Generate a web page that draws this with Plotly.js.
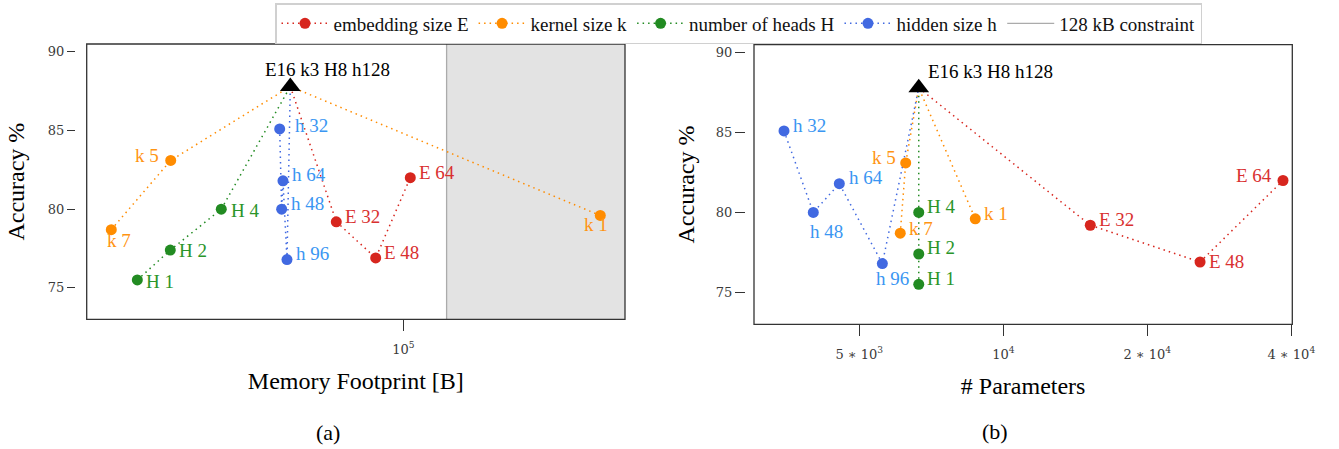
<!DOCTYPE html>
<html><head><meta charset="utf-8">
<script src="https://cdn.plot.ly/plotly-3.0.1.min.js"></script>
<style>html,body{margin:0;padding:0;background:#fff}#chart{width:1339px;height:449px}</style>
</head><body><div id="chart"></div>
<script>
// ---------------- data ----------------
const baseLabel = 'E16 k3 H8 h128';
const baseMemory = 49360;
const baseParams = 6657;
const baseAccuracy = 87.8;

const embLabels = ['E 32', 'E 48', 'E 64'];
const embMemory = [65790, 84160, 104470];
const embParams = [15200, 25780, 38430];
const embAccuracy = [79.2, 76.9, 82.0];

const kerLabels = ['k 7', 'k 5', 'k 1'];
const kerMemory = [16130, 23380, 342400];
const kerParams = [6090, 6252, 8738];
const kerAccuracy = [78.7, 83.1, 79.6];

const headLabels = ['H 1', 'H 2', 'H 4'];
const headMemory = [18980, 23320, 32070];
const headParams = [6657, 6657, 6657];
const headAccuracy = [75.5, 77.4, 80.0];

const hidLabels = ['h 32', 'h 48', 'h 64', 'h 96'];
const hidMemory = [46190, 46770, 47150, 48350];
const hidParams = [3480, 4007, 4542, 5587];
const hidAccuracy = [85.1, 80.0, 81.8, 76.8];

const memoryLimit = 128 * 1024;
const accTicks = [75, 80, 85, 90];
const memTickVals = [1e5];
const memTickText = ['10<sup>5</sup>'];
const parTickVals = [5e3, 1e4, 2e4, 4e4];
const parTickText = ['5 \u2217 10<sup>3</sup>', '10<sup>4</sup>', '2 \u2217 10<sup>4</sup>', '4 \u2217 10<sup>4</sup>'];

// ---------------- style ----------------
const SERIF = 'Liberation Serif';
const TICKFONT = {family: 'DejaVu Serif', size: 13, color: '#3a3a3a'};
const memRange = [4.1409, 5.6016];
const parRange = [3.4789, 4.6041];
const accRange = [73, 90.5];
const W = 1339, H = 449;

// label placement per point: [anchor, dx, dy(up)]
const series = [
  {name: 'embedding size E', color: '#d7261e', text: '#d93030', baseAt: 0,
   labels: embLabels, mem: embMemory, par: embParams, acc: embAccuracy,
   offA: [['l', 6.4, 5], ['l', 6.6, 5.7], ['l', 6.4, 5]],
   offB: [['l', 6.4, 5.3], ['l', 6.7, 0.3], ['r', -8.7, 5.3]]},
  {name: 'kernel size k', color: '#ff8c00', text: '#ff9412', baseAt: 2,
   labels: kerLabels, mem: kerMemory, par: kerParams, acc: kerAccuracy,
   offA: [['c', 8, -11.3], ['r', -10, 4.7], ['c', -4, -8.6]],
   offB: [['l', 6.4, 4.7], ['r', -7.4, 5.3], ['l', 6.4, 5.7]]},
  {name: 'number of heads H', color: '#228b22', text: '#2a952a', baseAt: 3,
   labels: headLabels, mem: headMemory, par: headParams, acc: headAccuracy,
   offA: [['l', 6.7, -1.7], ['l', 7, -0.7], ['l', 7.4, -1]],
   offB: [['l', 6.3, 6], ['l', 6.3, 6.3], ['l', 6.3, 6.3]]},
  {name: 'hidden size h', color: '#4169e1', text: '#3a96f2', baseAt: 4,
   labels: hidLabels, mem: hidMemory, par: hidParams, acc: hidAccuracy,
   offA: [['l', 13.6, 3.3], ['l', 7.6, 5.4], ['l', 7, 6], ['l', 7, 6]],
   offB: [['l', 7, 5.3], ['c', 13, -19.3], ['l', 7.4, 6.3], ['c', 9.7, -14.7]]}
];

function withBase(arr, b, at) { const a = arr.slice(); a.splice(at, 0, b); return a; }

const traces = [];
const annotations = [];

// legend entries
series.forEach(s => {
  traces.push({type: 'scatter', mode: 'lines+markers', x: [null], y: [null], name: s.name,
    xaxis: 'x', yaxis: 'y', hoverinfo: 'skip',
    line: {color: s.color, width: 1.5, dash: '1.5px,4px'},
    marker: {color: s.color, size: 11}});
});
traces.push({type: 'scatter', mode: 'lines', x: [memoryLimit, memoryLimit], y: accRange,
  name: '128 kB constraint', xaxis: 'x', yaxis: 'y', hoverinfo: 'skip',
  line: {color: '#ababab', width: 1.3}});

function anchorOf(c) { return c === 'l' ? 'left' : (c === 'r' ? 'right' : 'center'); }

[['x', 'y', 'mem', 'offA', baseMemory, ['l', -27, 17]],
 ['x2', 'y2', 'par', 'offB', baseParams, ['l', 7, 16.4]]].forEach(([xa, ya, key, offKey, bx, bOff]) => {
  series.forEach(s => {
    traces.push({type: 'scatter', mode: 'lines', showlegend: false, hoverinfo: 'skip',
      xaxis: xa, yaxis: ya,
      x: withBase(s[key], bx, s.baseAt), y: withBase(s.acc, baseAccuracy, s.baseAt),
      line: {color: s.color, width: 1.5, dash: '1.5px,4px'}});
  });
  series.forEach(s => {
    traces.push({type: 'scatter', mode: 'markers', showlegend: false, xaxis: xa, yaxis: ya,
      x: s[key], y: s.acc, hoverinfo: 'skip',
      marker: {color: s.color, size: 11}});
    s[key].forEach((v, i) => {
      const o = s[offKey][i];
      annotations.push({xref: xa, yref: ya, x: Math.log10(v), y: s.acc[i], text: s.labels[i],
        showarrow: false, xanchor: anchorOf(o[0]), yanchor: 'middle', xshift: o[1], yshift: o[2],
        font: {family: SERIF, size: 19, color: s.text}});
    });
  });
  traces.push({type: 'scatter', mode: 'markers', showlegend: false, xaxis: xa, yaxis: ya,
    x: [bx], y: [baseAccuracy], hoverinfo: 'skip',
    marker: {symbol: 'triangle-up', color: '#000', size: 18}});
  annotations.push({xref: xa, yref: ya, x: Math.log10(bx), y: baseAccuracy, text: baseLabel,
    showarrow: false, xanchor: anchorOf(bOff[0]), yanchor: 'middle', xshift: bOff[1], yshift: bOff[2],
    font: {family: SERIF, size: 19, color: '#000'}});
});

annotations.push({xref: 'paper', yref: 'paper', x: 328.3 / W, y: 1 - 432.7 / H, text: '(a)',
  showarrow: false, xanchor: 'center', yanchor: 'middle', font: {family: SERIF, size: 22, color: '#000'}});
annotations.push({xref: 'paper', yref: 'paper', x: 995 / W, y: 1 - 431.7 / H, text: '(b)',
  showarrow: false, xanchor: 'center', yanchor: 'middle', font: {family: SERIF, size: 22, color: '#000'}});

const axisCommon = {showgrid: false, zeroline: false, showline: false, ticks: 'outside',
  tickcolor: '#333', tickwidth: 1, tickfont: TICKFONT, automargin: false};

const layout = {
  width: W, height: H, margin: {l: 0, r: 0, t: 0, b: 0},
  paper_bgcolor: '#fff', plot_bgcolor: '#fff',
  font: {family: SERIF, color: '#000'},
  showlegend: true,
  legend: {orientation: 'h', x: 275 / W, y: 1 - 3 / H, xanchor: 'left', yanchor: 'top',
    font: {family: SERIF, size: 19, color: '#111'}, bgcolor: '#fff',
    bordercolor: '#d0d0d0', borderwidth: 1.5, itemwidth: 47, traceorder: 'normal'},
  xaxis: Object.assign({}, axisCommon, {domain: [86.7 / W, 625 / W], type: 'log', range: memRange,
    anchor: 'y', tickvals: memTickVals, ticktext: memTickText, ticklen: 11, ticklabelstandoff: 7,
    title: {text: 'Memory Footprint [B]', font: {family: SERIF, size: 24, color: '#000'}, standoff: 16}}),
  yaxis: Object.assign({}, axisCommon, {domain: [1 - 319.3 / H, 1 - 44 / H], range: accRange,
    anchor: 'free', position: 75 / W, tickvals: accTicks, ticklen: 8,
    title: {text: 'Accuracy %', font: {family: SERIF, size: 24, color: '#000'}, standoff: 15}}),
  xaxis2: Object.assign({}, axisCommon, {domain: [754 / W, 1292.3 / W], type: 'log', range: parRange,
    anchor: 'y2', tickvals: parTickVals, ticktext: parTickText, ticklen: 11, ticklabelstandoff: 7,
    title: {text: '# Parameters', font: {family: SERIF, size: 24, color: '#000'}, standoff: 16}}),
  yaxis2: Object.assign({}, axisCommon, {domain: [1 - 324.3 / H, 1 - 44.7 / H], range: accRange,
    anchor: 'free', position: 745 / W, tickvals: accTicks, ticklen: 10,
    title: {text: 'Accuracy %', font: {family: SERIF, size: 24, color: '#000'}, standoff: 13}}),
  shapes: [
    {type: 'rect', xref: 'x', yref: 'y domain', x0: memoryLimit, x1: Math.pow(10, memRange[1]),
     y0: 0, y1: 1, fillcolor: '#e3e3e3', line: {width: 0}, layer: 'below'},
    {type: 'rect', xref: 'x domain', yref: 'y domain', x0: 0, x1: 1, y0: 0, y1: 1,
     line: {color: '#333', width: 1.3}, fillcolor: 'rgba(0,0,0,0)', layer: 'above'},
    {type: 'rect', xref: 'x2 domain', yref: 'y2 domain', x0: 0, x1: 1, y0: 0, y1: 1,
     line: {color: '#333', width: 1.3}, fillcolor: 'rgba(0,0,0,0)', layer: 'above'}
  ],
  annotations: annotations
};

Plotly.newPlot('chart', traces, layout, {displayModeBar: false, staticPlot: true});
</script>
</body></html>
